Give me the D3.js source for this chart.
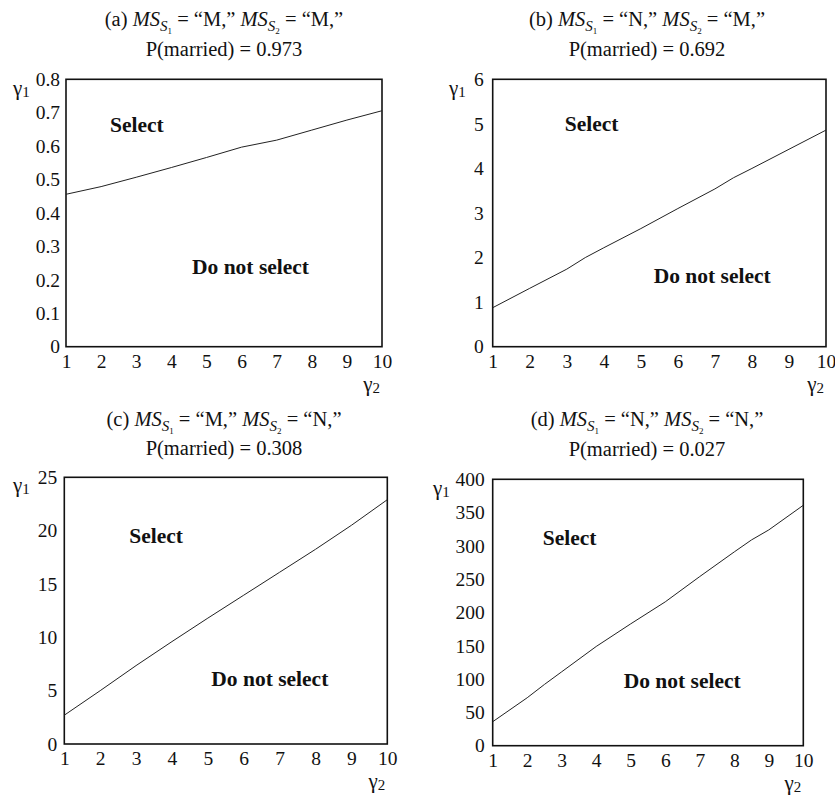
<!DOCTYPE html>
<html>
<head>
<meta charset="utf-8">
<title>Selection regions</title>
<script src="https://cdn.jsdelivr.net/npm/d3@7"></script>
<style>
  body { margin: 0; background: #fff; }
  svg text { font-family: "Liberation Serif", "Times New Roman", serif; fill: #111; }
</style>
</head>
<body>
<div id="chart"></div>
<script>
// gamma2 values (x) and threshold gamma1 (y)
var gamma2A = [1, 2, 3, 4, 5, 6, 7, 8, 9, 10];
var gamma1A = [0.456, 0.479, 0.507, 0.536, 0.566, 0.597, 0.618, 0.648, 0.678, 0.706];

var gamma2B = [1, 2, 3, 3.5, 4, 5, 6, 7, 7.5, 8, 9, 10];
var gamma1B = [0.875, 1.31, 1.74, 2.0, 2.22, 2.65, 3.1, 3.54, 3.79, 4.0, 4.43, 4.86];

var gamma2C = [1, 2, 3, 4, 5, 6, 7, 8, 9, 10];
var gamma1C = [2.7, 5.0, 7.35, 9.6, 11.8, 13.95, 16.1, 18.25, 20.5, 22.9];

var gamma2D = [1, 2, 2.5, 3, 4, 5, 6, 7, 8, 8.5, 9, 10];
var gamma1D = [36, 72, 92, 111, 149, 183, 216, 254, 291, 309, 324, 361];

var xTicks = [1, 2, 3, 4, 5, 6, 7, 8, 9, 10];
var yTicksA = [0, 0.1, 0.2, 0.3, 0.4, 0.5, 0.6, 0.7, 0.8];
var yTicksB = [0, 1, 2, 3, 4, 5, 6];
var yTicksC = [0, 5, 10, 15, 20, 25];
var yTicksD = [0, 50, 100, 150, 200, 250, 300, 350, 400];

var titleLetters = ["(a)", "(b)", "(c)", "(d)"];
var ms1 = ["M", "N", "M", "N"];
var ms2 = ["M", "M", "N", "N"];
var pMarried = ["0.973", "0.692", "0.308", "0.027"];

var W = 835, H = 800;

// layout of each panel (pixel box), kept apart from the data
var panels = [
  {x: gamma2A, y: gamma1A, yt: yTicksA, box: [66, 79.3, 382, 346.7], tx: 224, t1: 26, t2: 56,
   g1: [13, 95], sel: [44, 53], dns: [126, 195], pad: 6},
  {x: gamma2B, y: gamma1B, yt: yTicksB, box: [492.7, 79.3, 826, 346.7], tx: 647, t1: 26, t2: 56,
   g1: [449, 95], sel: [72, 52], dns: [161, 204], pad: 9},
  {x: gamma2C, y: gamma1C, yt: yTicksC, box: [64.3, 477.3, 387.3, 744], tx: 224, t1: 426, t2: 455,
   g1: [13, 492], sel: [65, 66], dns: [147, 209], pad: 7},
  {x: gamma2D, y: gamma1D, yt: yTicksD, box: [492.7, 479.3, 803.3, 745.7], tx: 647, t1: 426, t2: 456,
   g1: [433, 495], sel: [50, 66], dns: [131, 209], pad: 8}
];

var svg = d3.select("#chart").append("svg")
  .attr("width", W).attr("height", H);

var fmt = d3.format("~g");

panels.forEach(function(p, i) {
  var x0 = p.box[0], y0 = p.box[1], x1 = p.box[2], y1 = p.box[3];
  var ymax = p.yt[p.yt.length - 1];

  var xScale = d3.scaleLinear().domain([1, 10]).range([x0, x1]);
  var yScale = d3.scaleLinear().domain([0, ymax]).range([y1, y0]);

  var g = svg.append("g");

  // title, two lines
  var t = g.append("text")
    .attr("x", p.tx).attr("y", p.t1)
    .attr("text-anchor", "middle")
    .style("font-size", "20.5px");
  t.append("tspan").text(titleLetters[i] + " ");
  t.append("tspan").style("font-style", "italic").text("MS");
  t.append("tspan").style("font-style", "italic").style("font-size", "15px").attr("dy", 5).text("S");
  t.append("tspan").style("font-size", "9px").attr("dy", 3).text("1");
  t.append("tspan").attr("dy", -8).text(" = \u201C" + ms1[i] + ",\u201D ");
  t.append("tspan").style("font-style", "italic").text("MS");
  t.append("tspan").style("font-style", "italic").style("font-size", "15px").attr("dy", 5).text("S");
  t.append("tspan").style("font-size", "9px").attr("dy", 3).text("2");
  t.append("tspan").attr("dy", -8).text(" = \u201C" + ms2[i] + ",\u201D");

  g.append("text")
    .attr("x", p.tx).attr("y", p.t2)
    .attr("text-anchor", "middle")
    .style("font-size", "20.5px")
    .text("P(married) = " + pMarried[i]);

  // axes (labels only, no tick marks)
  var ax = g.append("g")
    .attr("transform", "translate(0," + y1 + ")")
    .call(d3.axisBottom(xScale).tickValues(xTicks).tickSize(0).tickPadding(7).tickFormat(fmt));
  var ay = g.append("g")
    .attr("transform", "translate(" + x0 + ",0)")
    .call(d3.axisLeft(yScale).tickValues(p.yt).tickSize(0).tickPadding(p.pad).tickFormat(fmt));
  [ax, ay].forEach(function(a) {
    a.select(".domain").remove();
    a.selectAll("text")
      .style("font-family", "'Liberation Serif', 'Times New Roman', serif")
      .style("font-size", "19.5px").attr("fill", "#111");
  });

  // the frame
  g.append("rect")
    .attr("x", x0).attr("y", y0)
    .attr("width", x1 - x0).attr("height", y1 - y0)
    .attr("fill", "none").attr("stroke", "#111").attr("stroke-width", 1.6);

  // the boundary line
  var line = d3.line()
    .x(function(d) { return xScale(d[0]); })
    .y(function(d) { return yScale(d[1]); });
  g.append("path")
    .datum(d3.zip(p.x, p.y))
    .attr("d", line)
    .attr("fill", "none").attr("stroke", "#222").attr("stroke-width", 1);

  // region labels
  g.append("text")
    .attr("x", x0 + p.sel[0]).attr("y", y0 + p.sel[1])
    .style("font-size", "21.5px").style("font-weight", "bold")
    .text("Select");
  g.append("text")
    .attr("x", x0 + p.dns[0]).attr("y", y0 + p.dns[1])
    .style("font-size", "21.5px").style("font-weight", "bold")
    .text("Do not select");

  // axis names
  var g1 = g.append("text").attr("x", p.g1[0]).attr("y", p.g1[1]).style("font-size", "21px");
  g1.append("tspan").text("\u03B3");
  g1.append("tspan").style("font-size", "15px").attr("dy", 2).text("1");

  var g2 = g.append("text").attr("x", x1 - 2).attr("y", y1 + 44)
    .attr("text-anchor", "end").style("font-size", "21px");
  g2.append("tspan").text("\u03B3");
  g2.append("tspan").style("font-size", "15px").attr("dy", 2).text("2");
});
</script>
</body>
</html>
